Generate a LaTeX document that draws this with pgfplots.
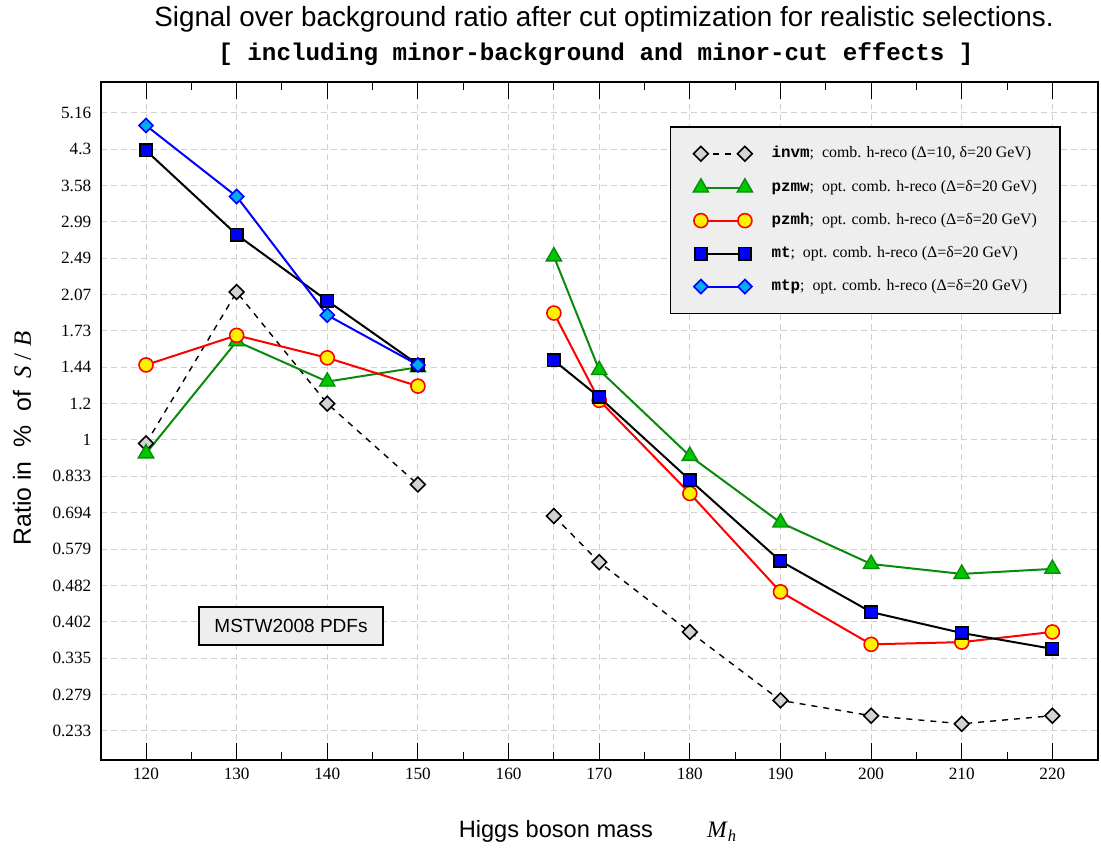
\documentclass[border=0pt]{standalone}
\usepackage{fontspec}
\setmainfont{Liberation Serif}
\setmonofont{Liberation Mono}
\newfontfamily\helv{Liberation Sans}
\usepackage{pgfplots}
\pgfplotsset{compat=1.18}
\definecolor{lgray}{HTML}{D3D3D3}
\definecolor{gline}{HTML}{0A8A0A}
\definecolor{gfill}{HTML}{00C800}
\definecolor{gridc}{HTML}{D0D0D0}
\definecolor{boxfill}{HTML}{EEEEEE}
\begin{document}
\begin{tikzpicture}
\path[use as bounding box] (-50.35pt,-47pt) rectangle (500.15pt,380pt);
\begin{axis}[
  at={(0,0)}, anchor=south west,
  scale only axis, width=498.5pt, height=339pt,
  xmin=115, xmax=225,
  ymode=log, ymin=0.201, ymax=6.02,
  clip=false,
  axis line style={line width=0.9pt},
  xtick={120,130,...,220},
  minor xtick={125,135,...,215},
  extra x ticks={165}, extra x tick labels={},
  extra x tick style={grid=major, major tick length=4pt},
  xtick pos=both,
  major tick length=8.5pt, minor tick length=4pt,
  tick style={black, line width=0.5pt},
  ytick={0.232568,0.279082,0.334898,0.401878,0.482253,0.578704,0.694444,0.833333,1,1.2,1.44,1.728,2.0736,2.48832,2.985984,3.583181,4.299817,5.159780},
  yticklabels={0.233,0.279,0.335,0.402,0.482,0.579,0.694,0.833,1,1.2,1.44,1.73,2.07,2.49,2.99,3.58,4.3,5.16},
  ytick style={draw=none},
  grid=major,
  major grid style={gridc, line width=0.5pt, dash pattern=on 3pt off 2pt},
  /pgf/number format/assume math mode=true,
  ticklabel style={font=\fontsize{8.6}{10}\selectfont},
  yticklabel style={xshift=-1.2pt},
  xticklabel style={yshift=-0.5pt},
  xlabel={{\helv Higgs boson mass}\hspace{2.3em}\textit{M}\textsubscript{\textit{h}}},
  xlabel style={at={(axis description cs:0.4988,-0.115)}, anchor=base, font=\fontsize{11.8}{14}\selectfont},
  ylabel={{\helv Ratio in \ \% \ of}\ \ \textit{S} / \textit{B}},
  ylabel style={at={(axis description cs:-0.0789,0.474)}, anchor=center, font=\fontsize{12.4}{14}\selectfont},
  legend style={at={(axis description cs:0.9629,0.935)}, anchor=north east,
    draw=black, line width=0.75pt, fill=boxfill,
    inner xsep=11.5pt, inner ysep=9.5pt, row sep=8.5pt, column sep=9.5pt,
    font=\fontsize{7.95}{9.5}\selectfont,
    nodes={inner sep=0pt, text height=6pt, text depth=2pt}},
  legend cell align=left,
  legend image code/.code={\draw[mark repeat=1,mark phase=1,#1] plot coordinates {(0pt,0pt) (22pt,0pt)};},
]
% invm
\addplot[black, line width=0.7pt, dashed, mark=square*, mark size=2.6pt,
  mark options={solid, rotate=45, fill=lgray, draw=black, line width=0.8pt}]
  coordinates {(120,0.983) (130,2.10) (140,1.20) (150,0.80)};
\addlegendentry{{\ttfamily\bfseries invm};\ \ comb. h-reco (Δ=10, δ=20 GeV)}
% pzmw
\addplot[gline, line width=1pt, mark=triangle*, mark size=4.4pt,
  mark options={fill=gfill, draw=gline, line width=0.7pt}]
  coordinates {(120,0.935) (130,1.64) (140,1.34) (150,1.44)};
\addlegendentry{{\ttfamily\bfseries pzmw};\ \ opt. comb. h-reco (Δ=δ=20 GeV)}
% pzmh
\addplot[red, line width=1pt, mark=*, mark size=3.5pt,
  mark options={fill=yellow, draw=red, line width=0.8pt}]
  coordinates {(120,1.457) (130,1.69) (140,1.51) (150,1.31)};
\addlegendentry{{\ttfamily\bfseries pzmh};\ \ opt. comb. h-reco (Δ=δ=20 GeV)}
% mt
\addplot[black, line width=1pt, mark=square*, mark size=3.1pt,
  mark options={fill=blue, draw=black, line width=0.8pt}]
  coordinates {(120,4.27) (130,2.80) (140,2.01) (150,1.46)};
\addlegendentry{{\ttfamily\bfseries mt};\ \ opt. comb. h-reco (Δ=δ=20 GeV)}
% mtp
\addplot[blue, line width=1pt, mark=square*, mark size=2.5pt,
  mark options={rotate=45, fill=cyan, draw=blue, line width=0.8pt}]
  coordinates {(120,4.84) (130,3.39) (140,1.87) (150,1.457)};
\addlegendentry{{\ttfamily\bfseries mtp};\ \ opt. comb. h-reco (Δ=δ=20 GeV)}
% right parts
\addplot[forget plot, black, line width=0.7pt, dashed, mark=square*, mark size=2.6pt,
  mark options={solid, rotate=45, fill=lgray, draw=black, line width=0.8pt}]
  coordinates {(165,0.683) (170,0.542) (180,0.382) (190,0.271) (200,0.251) (210,0.241) (220,0.251)};
\addplot[forget plot, gline, line width=1pt, mark=triangle*, mark size=4.4pt,
  mark options={fill=gfill, draw=gline, line width=0.7pt}]
  coordinates {(165,2.51) (170,1.42) (180,0.923) (190,0.661) (200,0.537) (210,0.511) (220,0.524)};
\addplot[forget plot, red, line width=1pt, mark=*, mark size=3.5pt,
  mark options={fill=yellow, draw=red, line width=0.8pt}]
  coordinates {(165,1.89) (170,1.22) (180,0.765) (190,0.467) (200,0.359) (210,0.363) (220,0.382)};
\addplot[forget plot, black, line width=1pt, mark=square*, mark size=3.1pt,
  mark options={fill=blue, draw=black, line width=0.8pt}]
  coordinates {(165,1.49) (170,1.24) (180,0.818) (190,0.545) (200,0.422) (210,0.380) (220,0.351)};
% titles and box
\node[anchor=base, font=\helv\fontsize{13.9}{16}\selectfont] at (axis description cs:0.5048,1.0811)
  {Signal over background ratio after cut optimization for realistic selections.};
\node[anchor=base, font=\ttfamily\bfseries\fontsize{12.1}{14}\selectfont] at (axis description cs:0.4968,1.0324)
  {[ including minor-background and minor-cut effects ]};
\node[draw=black, line width=0.9pt, fill=boxfill, minimum width=92pt, minimum height=19pt,
  font=\helv\fontsize{9.5}{11}\selectfont] at (axis cs:136,0.393) {MSTW2008 PDFs};
\end{axis}
\end{tikzpicture}
\end{document}
